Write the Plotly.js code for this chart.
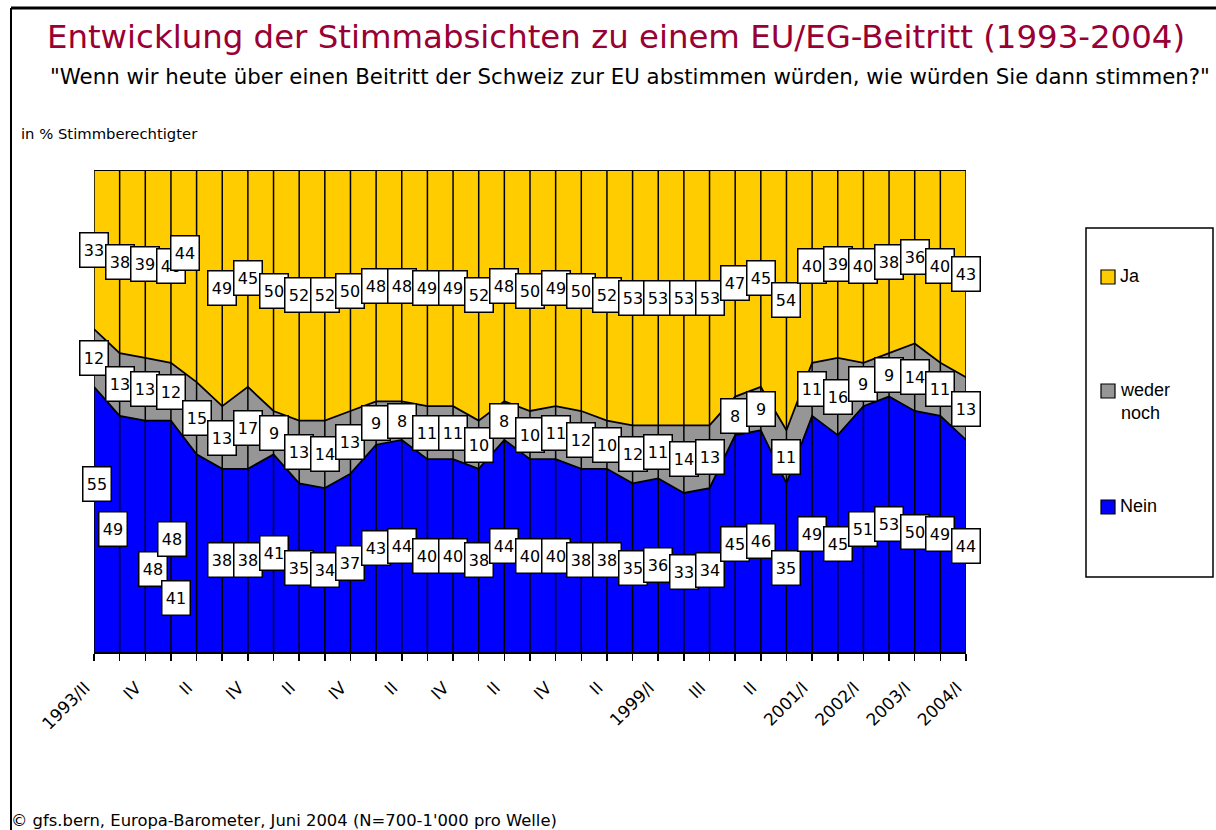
<!DOCTYPE html>
<html>
<head>
<meta charset="utf-8">
<script src="https://cdn.plot.ly/plotly-3.0.1.min.js"></script>
<style>
  html, body { margin: 0; padding: 0; background: #fff; }
  #chart { width: 1216px; height: 830px; }
</style>
</head>
<body>
<div id="chart"></div>
<script>
// Survey waves: only every other wave carries a label on the axis
const waveTicks = [
  '1993/II', '', 'IV', '', 'II', '', 'IV', '', 'II', '', 'IV', '', 'II', '', 'IV', '',
  'II', '', 'IV', '', 'II', '', '1999/I', '', 'III', '', 'II', '', '2001/I', '',
  '2002/I', '', '2003/I', '', '2004/I'
];

// Shares in % of voters, one value per wave
const ja    = [33, 38, 39, 40, 44, 49, 45, 50, 52, 52, 50, 48, 48, 49, 49, 52, 48, 50, 49, 50, 52, 53, 53, 53, 53, 47, 45, 54, 40, 39, 40, 38, 36, 40, 43];
const weder = [12, 13, 13, 12, 15, 13, 17,  9, 13, 14, 13,  9,  8, 11, 11, 10,  8, 10, 11, 12, 10, 12, 11, 14, 13,  8,  9, 11, 11, 16,  9,  9, 14, 11, 13];
const nein  = [55, 49, 48, 48, 41, 38, 38, 41, 35, 34, 37, 43, 44, 40, 40, 38, 44, 40, 40, 38, 38, 35, 36, 33, 34, 45, 46, 35, 49, 45, 51, 53, 50, 49, 44];

const seriesNames  = ['Nein', 'weder noch', 'Ja'];
const seriesColors = ['#0000FF', '#969696', '#FFCC00'];

// A few labels were moved by hand in the original (pixel nudges)
const labelNudges = {
  'Ja-4':   { dx: -12, dy: 23 },
  'Nein-0': { dx: 3,   dy: 35 },
  'Nein-1': { dx: -7,  dy: 5 },
  'Nein-2': { dx: 8,   dy: -33 },
  'Nein-3': { dx: 1,   dy: -3 },
  'Nein-4': { dx: -21, dy: -45 }
};

const W = 1216, H = 830;
const PLOT = { l: 94, r: 966, t: 170, b: 652 };
const FONT = 'DejaVu Sans, Verdana, sans-serif';
const LEGEND_FONT = 'Liberation Sans, Arial, sans-serif';

// pixel -> paper helpers for layout decorations
const px = x => (x - PLOT.l) / (PLOT.r - PLOT.l);
const py = y => (PLOT.b - y) / (PLOT.b - PLOT.t);

const idx = waveTicks.map((_, i) => i);
const seriesValues = [nein, weder, ja];

// stacked areas, bottom to top
const traces = seriesValues.map((vals, s) => ({
  type: 'scatter',
  mode: 'lines',
  x: idx,
  y: vals,
  name: seriesNames[s],
  stackgroup: 'votes',
  fillcolor: seriesColors[s],
  line: { color: '#000', width: 1.8 },
  hoverinfo: 'skip'
}));

// vertical drop lines at every wave, over the areas
const totals = idx.map(i => nein[i] + weder[i] + ja[i]);
const dropX = [], dropY = [];
idx.forEach(i => { dropX.push(i, i, null); dropY.push(0, totals[i], null); });
traces.push({
  type: 'scatter', mode: 'lines', x: dropX, y: dropY,
  line: { color: '#000', width: 1.5 }, hoverinfo: 'skip', showlegend: false
});

// value labels in the middle of each band
const annotations = [];
const base = idx.map(() => 0);
seriesValues.forEach((vals, s) => {
  vals.forEach((v, i) => {
    const nudge = labelNudges[seriesNames[s] + '-' + i] || { dx: 0, dy: 0 };
    annotations.push({
      x: i, y: base[i] + v / 2, xref: 'x', yref: 'y',
      text: String(v), showarrow: false,
      xshift: nudge.dx, yshift: nudge.dy,
      font: { family: FONT, size: 16, color: '#000' },
      bgcolor: '#fff', bordercolor: '#000', borderwidth: 1.5, borderpad: 1,
      width: 25, height: 31
    });
    base[i] += v;
  });
});

// titles and notes
annotations.push(
  {
    xref: 'paper', yref: 'paper', x: px(630), y: py(76), xanchor: 'center', yanchor: 'middle',
    text: '"Wenn wir heute über einen Beitritt der Schweiz zur EU abstimmen würden, wie würden Sie dann stimmen?"',
    showarrow: false, font: { family: FONT, size: 21.3, color: '#000' }
  },
  {
    xref: 'paper', yref: 'paper', x: px(19), y: py(133), xanchor: 'left', yanchor: 'middle',
    text: 'in % Stimmberechtigter', showarrow: false,
    font: { family: FONT, size: 14.8, color: '#000' }
  },
  {
    xref: 'paper', yref: 'paper', x: px(9), y: py(820), xanchor: 'left', yanchor: 'middle',
    text: "© gfs.bern, Europa-Barometer, Juni 2004 (N=700-1'000 pro Welle)", showarrow: false,
    font: { family: FONT, size: 16.4, color: '#000' }
  }
);

// hand-drawn legend, like the original box on the right
const shapes = [
  { type: 'rect', xref: 'paper', yref: 'paper', x0: px(1086), x1: px(1213), y0: py(228), y1: py(577),
    line: { color: '#000', width: 1.5 }, fillcolor: '#fff', layer: 'above' },
  { type: 'line', xref: 'paper', yref: 'paper', x0: px(11), x1: px(1216), y0: py(8), y1: py(8),
    line: { color: '#000', width: 3 } },
  { type: 'line', xref: 'paper', yref: 'paper', x0: px(11), x1: px(11), y0: py(8), y1: py(830),
    line: { color: '#000', width: 2 } }
];
const legendRows = [
  { s: 2, y: 277 },
  { s: 1, y: 391 },
  { s: 0, y: 507 }
];
legendRows.forEach(row => {
  shapes.push({
    type: 'rect', xref: 'paper', yref: 'paper',
    x0: px(1101), x1: px(1115), y0: py(row.y - 7), y1: py(row.y + 7),
    line: { color: '#000', width: 1.2 }, fillcolor: seriesColors[row.s], layer: 'above'
  });
  const multi = seriesNames[row.s] === 'weder noch';
  annotations.push({
    xref: 'paper', yref: 'paper', x: px(1118), y: py(row.y), xanchor: 'left', yanchor: 'top',
    yshift: 13, align: 'left',
    text: multi ? 'weder<br>noch' : seriesNames[row.s], showarrow: false,
    font: { family: LEGEND_FONT, size: 18, color: '#000' }
  });
});

const layout = {
  width: W, height: H,
  margin: { l: PLOT.l, r: W - PLOT.r, t: PLOT.t, b: H - PLOT.b, pad: 0 },
  paper_bgcolor: '#fff', plot_bgcolor: '#fff',
  showlegend: false,
  title: {
    text: 'Entwicklung der Stimmabsichten zu einem EU/EG-Beitritt (1993-2004)',
    xref: 'container', yref: 'container', x: 616 / W, y: 1 - 37 / H,
    xanchor: 'center', yanchor: 'middle',
    font: { family: FONT, size: 32.4, color: '#990033' }
  },
  xaxis: {
    type: 'linear', range: [0, idx.length - 1], fixedrange: true,
    tickmode: 'array', tickvals: idx, ticktext: waveTicks, tickangle: -45,
    ticks: 'outside', ticklen: 7, tickwidth: 1.5, tickcolor: '#000',
    ticklabelstandoff: 10, ticklabelshift: -9,
    showline: true, linecolor: '#000', linewidth: 2,
    showgrid: false, zeroline: false,
    tickfont: { family: FONT, size: 17, color: '#000' }
  },
  yaxis: {
    range: [0, 100], visible: false, fixedrange: true
  },
  annotations: annotations,
  shapes: shapes
};

Plotly.newPlot('chart', traces, layout, { displayModeBar: false, staticPlot: true });
</script>
</body>
</html>
